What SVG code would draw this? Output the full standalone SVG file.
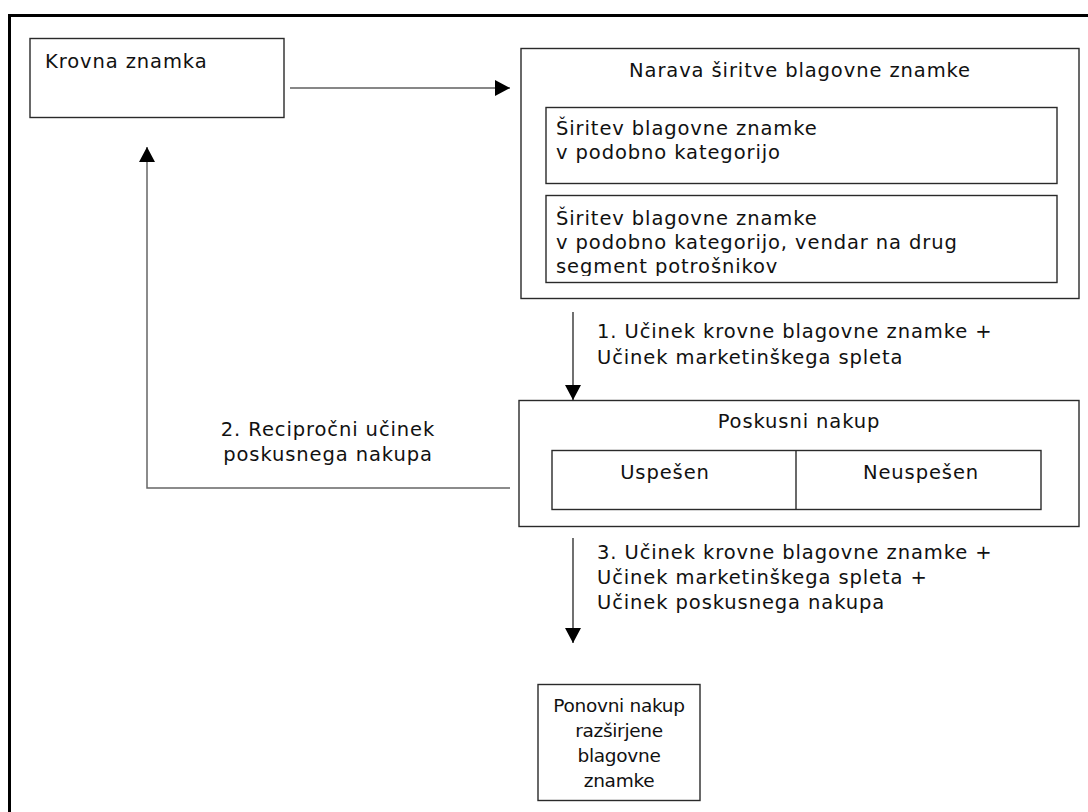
<svg xmlns="http://www.w3.org/2000/svg" width="1088" height="812" viewBox="0 0 1088 812">
  <style>
    .box { fill: #ffffff; stroke: #2a2a2a; stroke-width: 1.4; }
    .lbl { font-family: "DejaVu Sans", Verdana, sans-serif; font-size: 19.5px; letter-spacing: 0.9px; fill: #111111; }
    .sm { font-family: "DejaVu Sans", Verdana, sans-serif; font-size: 18.5px; letter-spacing: -0.3px; fill: #111111; text-anchor: middle; }
    .mid { text-anchor: middle; }
    .conn { fill: none; stroke: #111111; stroke-width: 1.2; }
    .conn-grey { fill: none; stroke: #666666; stroke-width: 1.5; }
    .frame { fill: none; stroke: #000000; stroke-width: 3; }
  </style>
  <defs>
    <marker id="arrow" viewBox="0 0 15 16" refX="15" refY="8" markerWidth="15" markerHeight="16" markerUnits="userSpaceOnUse" orient="auto">
      <path d="M0,0 L15,8 L0,16 Z" fill="#000000"/>
    </marker>
    <clipPath id="clip-seg"><rect x="546" y="195" width="512" height="81"/></clipPath>
  </defs>

  <rect width="1088" height="812" fill="#ffffff"/>
  <!-- page frame: only the top and left edges fall inside the view -->
  <path class="frame" d="M9.5,812 V15.5 H1088"/>

  <g id="krovna-znamka">
    <rect class="box" x="30" y="38.5" width="254" height="79"/>
    <text class="lbl" x="45" y="68">Krovna znamka</text>
  </g>

  <g id="narava-siritve">
    <rect class="box" x="521" y="48.5" width="558" height="250"/>
    <text class="lbl mid" x="800" y="77">Narava širitve blagovne znamke</text>
  </g>

  <g id="siritev-podobna">
    <rect class="box" x="546" y="107.5" width="511" height="76"/>
    <text class="lbl" x="556" y="135">Širitev blagovne znamke</text>
    <text class="lbl" x="556" y="159">v podobno kategorijo</text>
  </g>

  <g id="siritev-segment">
    <rect class="box" x="546" y="195.5" width="511" height="87"/>
    <g clip-path="url(#clip-seg)">
      <text class="lbl" x="556" y="225">Širitev blagovne znamke</text>
      <text class="lbl" x="556" y="249">v podobno kategorijo, vendar na drug</text>
      <text class="lbl" x="556" y="273">segment potrošnikov</text>
    </g>
  </g>

  <g id="poskusni-nakup">
    <rect class="box" x="519" y="400.5" width="560" height="126"/>
    <text class="lbl mid" x="799" y="428">Poskusni nakup</text>
    <rect class="box" x="552" y="450.5" width="489" height="59"/>
    <line class="box" x1="796" y1="450.5" x2="796" y2="509.5"/>
    <text class="lbl mid" x="665" y="479">Uspešen</text>
    <text class="lbl mid" x="921" y="479">Neuspešen</text>
  </g>

  <g id="ponovni-nakup">
    <rect class="box" x="538" y="684.5" width="162" height="116"/>
    <text class="sm" x="619" y="712">Ponovni nakup</text>
    <text class="sm" x="619" y="737">razširjene</text>
    <text class="sm" x="619" y="762">blagovne</text>
    <text class="sm" x="619" y="787">znamke</text>
  </g>

  <g id="connectors">
    <line class="conn" x1="290" y1="88" x2="510" y2="88" marker-end="url(#arrow)"/>
    <line class="conn" x1="573" y1="312" x2="573" y2="400" marker-end="url(#arrow)"/>
    <polyline class="conn-grey" points="510,488 147,488 147,147" marker-end="url(#arrow)"/>
    <line class="conn" x1="573" y1="538" x2="573" y2="643" marker-end="url(#arrow)"/>
  </g>

  <g id="connector-labels">
    <text class="lbl" x="597" y="338">1. Učinek krovne blagovne znamke +</text>
    <text class="lbl" x="597" y="364">Učinek marketinškega spleta</text>
    <text class="lbl mid" x="328" y="436">2. Recipročni učinek</text>
    <text class="lbl mid" x="328" y="461">poskusnega nakupa</text>
    <text class="lbl" x="597" y="559">3. Učinek krovne blagovne znamke +</text>
    <text class="lbl" x="597" y="584">Učinek marketinškega spleta +</text>
    <text class="lbl" x="597" y="609">Učinek poskusnega nakupa</text>
  </g>
</svg>
